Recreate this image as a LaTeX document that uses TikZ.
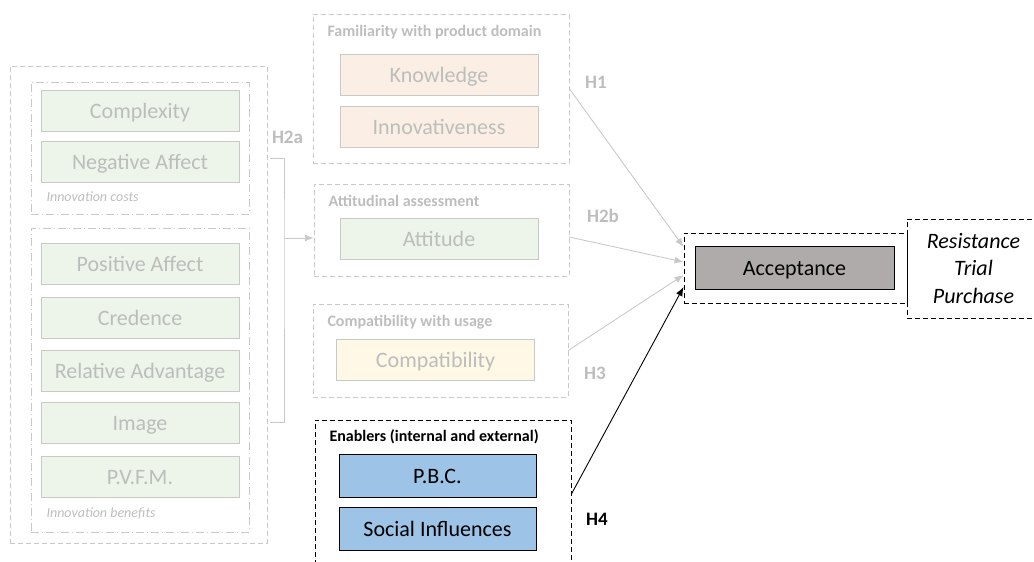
\documentclass[tikz,border=0pt]{standalone}
\usepackage{fontspec}
\setmainfont{Carlito}
\usetikzlibrary{positioning,arrows.meta,calc}
\definecolor{amGrey}{RGB}{200,202,200}
\definecolor{amText}{RGB}{188,190,188}
\definecolor{amGreen}{RGB}{237,244,234}
\definecolor{amPeach}{RGB}{251,238,228}
\definecolor{amCream}{RGB}{255,248,230}
\definecolor{amBlue}{RGB}{157,195,230}
\definecolor{amDark}{RGB}{175,171,171}

\begin{document}
\begin{tikzpicture}[x=1pt, y=-1pt,
  grp/.style={draw=amGrey, dash pattern=on 5pt off 3pt, inner sep=0pt},
  fbox/.style={draw=amGrey, line width=0.9pt, fill=amGreen, text=amText, minimum width=198pt, minimum height=41pt, inner sep=0pt, text height=16pt, text depth=1pt, font=\fontsize{22}{26}\selectfont},
  ttl/.style={anchor=west, font=\bfseries\fontsize{16}{19}\selectfont, text=amText},
  hlab/.style={font=\bfseries\fontsize{19}{22}\selectfont, text=amText},
  garrow/.style={draw=amGrey, line width=0.9pt, -{Latex[length=9pt,width=7pt]}}]
\useasboundingbox (0,0) rectangle (1034,562);
% innovation characteristics
\node[grp, minimum width=257pt, minimum height=477pt] (outer) at (138.5,304.5) {};
\node[grp, dash pattern=on 8pt off 3pt on 1pt off 3pt, minimum width=218pt, minimum height=132pt] (costs) at (140,148) {};
\node[grp, dash pattern=on 8pt off 3pt on 1pt off 3pt, minimum width=218pt, minimum height=304pt] (bens) at (140,380) {};
\node[fbox] (cplx) at (140,111) {Complexity};
\node[fbox] (negaff) at (140,162) {Negative Affect};
\foreach \n/\y/\t in {posaff/263.5/Positive Affect, cred/317.5/Credence, reladv/370.5/Relative Advantage, image/422.5/Image, pvfm/476.5/P.V.F.M.}
  \node[fbox] (\n) at (140,\y) {\t};
\node[anchor=west, text=amText, font=\itshape\fontsize{14}{16}\selectfont] (coststxt) at (43,197) {Innovation costs};
\node[anchor=west, text=amText, font=\itshape\fontsize{14}{16}\selectfont] (benstxt) at (43,513) {Innovation benefits};
% consumer side
\node[grp, minimum width=256pt, minimum height=149pt] (famgrp) at (441,88.5) {};
\node[ttl] (famttl) at (324,32) {Familiarity with product domain};
\node[fbox, fill=amPeach] (know) at (439,75) {Knowledge};
\node[fbox, fill=amPeach] (innov) at (439,127) {Innovativeness};
\node[grp, minimum width=255pt, minimum height=92pt] (attgrp) at (441.5,230) {};
\node[ttl] (attttl) at (325,201) {Attitudinal assessment};
\node[fbox] (att) at (439,239) {Attitude};
\node[grp, minimum width=255pt, minimum height=93pt] (compgrp) at (440.5,350.5) {};
\node[ttl] (compttl) at (324,322) {Compatibility with usage};
\node[fbox, fill=amCream] (comp) at (435.5,359.5) {Compatibility};
\node[grp, draw=black, line width=0.9pt, minimum width=256pt, minimum height=148pt] (engrp) at (443,494) {};
\node[ttl, text=black] (enttl) at (326,437) {Enablers (internal and external)};
\node[fbox, draw=black, fill=amBlue, text=black, minimum width=197pt, minimum height=43pt] (pbc) at (437.5,475.5) {P.B.C.};
\node[fbox, draw=black, fill=amBlue, text=black, minimum width=197pt, minimum height=43pt] (social) at (437.5,529) {Social Influences};
% outcome
\node[grp, draw=black, line width=0.9pt, minimum width=223pt, minimum height=70pt] (accgrp) at (795.5,268) {};
\node[fbox, draw=black, fill=amDark, text=black, minimum width=199pt, minimum height=43pt] (acc) at (794.5,267.5) {Acceptance};
\node[grp, draw=black, line width=0.9pt, minimum width=133pt, minimum height=99pt, align=center, font=\itshape\fontsize{22}{27.5}\selectfont] (res) at (973.5,268.5) {Resistance\\Trial\\Purchase};
% bracket and hypotheses
\coordinate (brk) at (284,238);
\draw[amGrey, line width=0.9pt] ([xshift=3pt]outer.east |- 0,158) -| (brk) |- ([xshift=3pt]outer.east |- image);
\draw[garrow] (brk) -- (attgrp.west |- brk);
\node[hlab] (h2a) at (287.5,137) {H2a};
\draw[garrow] (famgrp.east) -- ([yshift=21pt]accgrp.west);
\draw[garrow] ([yshift=-7pt]attgrp.east) -- ([yshift=6pt]accgrp.west);
\draw[garrow] (compgrp.east) -- ([yshift=-7pt]accgrp.west);
\draw[line width=0.9pt, -{Latex[length=9pt,width=7pt]}] (engrp.east) -- ([yshift=-19pt]accgrp.west);
\node[hlab] (h1) at (596,82) {H1};
\node[hlab] (h2b) at (603,216) {H2b};
\node[hlab] (h3) at (595,373) {H3};
\node[hlab, text=black] (h4) at (597,519) {H4};
\end{tikzpicture}
\end{document}
